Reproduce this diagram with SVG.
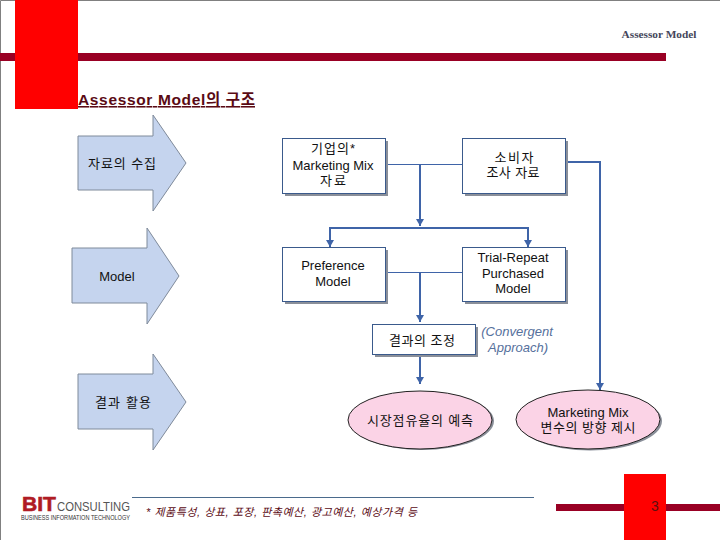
<svg xmlns="http://www.w3.org/2000/svg" width="720" height="540" viewBox="0 0 720 540">
<style>
text{font-family:"Liberation Sans","Noto Sans CJK KR",sans-serif;font-size:13px;fill:#111;text-anchor:middle}
.arrow{fill:#c5d4ee;stroke:#7f8a9a;stroke-width:1}
.box{fill:#fff;stroke:#3a5a8c;stroke-width:1}
.sh{fill:#8a8f99}
.ell{fill:#fbd3e6;stroke:#222;stroke-width:1}
.thin{fill:none;stroke:#3f64a8;stroke-width:1}
.thick{fill:none;stroke:#3f64a8;stroke-width:2}
.red{fill:#ff0000}
.bar{fill:#990024}
</style>
<defs><marker id="a" markerUnits="userSpaceOnUse" markerWidth="7" markerHeight="8" refX="7" refY="4" orient="auto" viewBox="0 0 7 8"><path d="M0,0L7,4L0,8Z" fill="#3f64a8"/></marker></defs>
<rect width="720" height="540" fill="#fff"/>
<path d="M0.500,540V0.500H720" fill="none" stroke="#808080" stroke-width="1"/>
<rect class="bar" x="0" y="53" width="666" height="8"/>
<rect class="red" x="15" y="0" width="63" height="109"/>
<rect class="bar" x="556" y="504" width="164" height="7"/>
<rect class="red" x="624" y="474" width="42" height="66"/>
<text x="659" y="38" style="font-family:'Liberation Serif',serif;font-size:11.300px;font-weight:bold;fill:#44465a">Assessor Model</text>
<text x="655" y="511" style="font-size:14px;fill:#5a1010">3</text>
<text x="78" y="105" textLength="177" style="font-size:15.500px;font-weight:bold;text-anchor:start;fill:#5a0a14;text-decoration:underline">Assessor Model의 구조</text>
<g id="arrow1"><path class="arrow" d="M78,136H153V115L186,163L153,211V190H78Z"/><text x="122" y="168" textLength="68">자료의 수집</text></g>
<g id="arrow2"><path class="arrow" d="M72,248H147V228L179,276L147,324V303H72Z"/><text x="117" y="280.500">Model</text></g>
<g id="arrow3"><path class="arrow" d="M78,374H153V354L186,402L153,450V429H78Z"/><text x="123" y="407" textLength="56">결과 활용</text></g>
<g id="connectors">
<path class="thin" d="M385,164.500H462M385,272.500H462"/>
<path class="thick" d="M420,164V226" marker-end="url(#a)"/>
<path class="thick" d="M330,247V228H528V247"/>
<path d="M326,240H334L330,247ZM524,240H532L528,247Z" fill="#3f64a8"/>
<path class="thick" d="M420,272V322" marker-end="url(#a)"/>
<path class="thick" d="M420,354V384" marker-end="url(#a)"/>
<path class="thick" d="M565,162H600V390" marker-end="url(#a)"/>
</g>
<g id="box1"><rect class="sh" x="285" y="141" width="103" height="55"/><rect class="box" x="282.500" y="138.500" width="103" height="55"/><text x="333" y="153" textLength="44">기업의*</text><text x="333" y="170">Marketing Mix</text><text x="333" y="185" textLength="26">자료</text></g>
<g id="box2"><rect class="sh" x="465" y="141" width="103" height="55"/><rect class="box" x="462.500" y="138.500" width="103" height="55"/><text x="514" y="162" textLength="39">소비자</text><text x="513" y="177" textLength="53">조사 자료</text></g>
<g id="box3"><rect class="sh" x="285" y="250" width="103" height="54"/><rect class="box" x="282.500" y="247.500" width="103" height="54"/><text x="333" y="270">Preference</text><text x="333" y="286">Model</text></g>
<g id="box4"><rect class="sh" x="465" y="250" width="103" height="54"/><rect class="box" x="462.500" y="247.500" width="103" height="54"/><text x="513" y="262">Trial-Repeat</text><text x="513" y="278">Purchased</text><text x="513" y="293">Model</text></g>
<g id="box5"><rect class="sh" x="375" y="327" width="103" height="30"/><rect class="box" x="372.500" y="324.500" width="103" height="30"/><text x="422" y="345" textLength="66">결과의 조정</text></g>
<text x="517" y="336" style="font-style:italic;fill:#55709c">(Convergent</text>
<text x="518" y="352" style="font-style:italic;fill:#55709c">Approach)</text>
<g id="ell1"><ellipse class="sh" cx="422" cy="421" rx="72" ry="29"/><ellipse class="ell" cx="420" cy="420" rx="72" ry="29"/><text x="420" y="425" textLength="106">시장점유율의 예측</text></g>
<g id="ell2"><ellipse class="sh" cx="590" cy="421" rx="72" ry="29.500"/><ellipse class="ell" cx="588" cy="419.500" rx="72" ry="29.500"/><text x="588" y="417">Marketing Mix</text><text x="588" y="432" textLength="95">변수의 방향 제시</text></g>
<path d="M132,497.500H534" stroke="#4a6a8c" stroke-width="1" fill="none"/>
<text x="146" y="516" textLength="271" style="font-size:11px;font-style:italic;text-anchor:start;fill:#5a0a14">* 제품특성, 상표, 포장, 판촉예산, 광고예산, 예상가격 등</text>
<g id="logo">
<text x="22" y="511" style="font-size:21px;font-weight:900;text-anchor:start;fill:#b01c24;stroke:#b01c24;stroke-width:.6" textLength="34" lengthAdjust="spacingAndGlyphs">BIT</text>
<text x="57" y="511" style="font-size:12px;text-anchor:start;fill:#555" textLength="73" lengthAdjust="spacingAndGlyphs">CONSULTING</text>
<text x="21" y="520" style="font-size:7px;text-anchor:start;fill:#333" textLength="109" lengthAdjust="spacingAndGlyphs">BUSINESS INFORMATION TECHNOLOGY</text>
</g>
</svg>
